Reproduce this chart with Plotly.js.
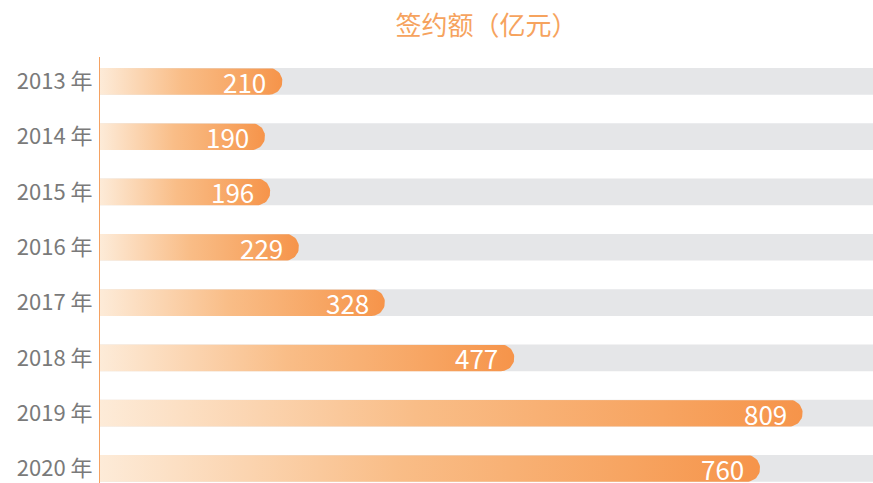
<!DOCTYPE html>
<html>
<head>
<meta charset="utf-8">
<script src="https://cdn.plot.ly/plotly-3.0.1.min.js"></script>
<style>html,body{margin:0;padding:0;background:#fff;}#chart{width:873px;height:483px;}</style>
</head>
<body>
<div id="chart"></div>
<script>
// ---- data ----
const categories = ['2013 年', '2014 年', '2015 年', '2016 年', '2017 年', '2018 年', '2019 年', '2020 年'];
const values = [210, 190, 196, 229, 328, 477, 809, 760];
const chartTitle = '签约额（亿元）';

// ---- layout geometry ----
const W = 873, H = 483;
const M = {l: 100, r: 0, t: 57, b: 0};
const xMax = 890;
const barWidth = 0.483;
const plotW = W - M.l - M.r;
const plotH = H - M.t - M.b;
const yRange = [7.263, -0.44];
const pxPerY = plotH / Math.abs(yRange[0] - yRange[1]);
const capRadiusPx = barWidth * pxPerY / 2;
const capRadiusData = capRadiusPx * xMax / plotW;

const idx = categories.map((_, i) => i);
const endColor = '#f6944a';
const gradScale = [[0, '#fdebd8'], [0.45, '#f9bd87'], [0.8, '#f7a461'], [1, endColor]];

const traces = [];
// grey background bars
traces.push({
  type: 'bar', orientation: 'h', y: idx, x: idx.map(() => xMax), width: barWidth,
  marker: {color: '#e5e6e8'}, hoverinfo: 'skip', showlegend: false
});
// gradient bars with rounded right end
const arcSteps = 24;
values.forEach((v, i) => {
  const cx = v - capRadiusData;
  const ry = barWidth / 2;
  const xs = [0, cx], ys = [i - ry, i - ry];
  for (let k = 0; k <= arcSteps; k++) {
    const a = -Math.PI / 2 + Math.PI * k / arcSteps;
    xs.push(cx + capRadiusData * Math.cos(a));
    ys.push(i + ry * Math.sin(a));
  }
  xs.push(cx, 0, 0);
  ys.push(i + ry, i + ry, i - ry);
  traces.push({
    type: 'scatter', mode: 'lines', x: xs, y: ys,
    fill: 'toself', line: {width: 0, color: 'rgba(0,0,0,0)'},
    fillgradient: {type: 'horizontal', colorscale: gradScale, start: 0, stop: v},
    hoverinfo: 'skip', showlegend: false
  });
});

const annotations = values.map((v, i) => ({
  x: v, y: i, xref: 'x', yref: 'y', text: String(v), showarrow: false,
  xanchor: 'right', yanchor: 'middle', xshift: -15, yshift: 0, borderpad: 0,
  font: {family: 'Noto Sans CJK SC', size: 26, color: '#ffffff'}
}));

const layout = {
  width: W, height: H,
  margin: M,
  paper_bgcolor: '#ffffff', plot_bgcolor: '#ffffff',
  barmode: 'overlay',
  font: {family: 'Noto Sans CJK SC'},
  title: {
    text: chartTitle, xref: 'paper', x: 0.5, xanchor: 'center',
    yref: 'container', y: 1 - 26 / H, yanchor: 'middle',
    font: {family: 'Noto Sans CJK SC', size: 26, color: '#f6a35e'}
  },
  xaxis: {range: [0, xMax], visible: false, fixedrange: true},
  yaxis: {
    range: yRange, tickvals: idx, ticktext: categories,
    showline: true, linecolor: '#f5a262', linewidth: 1,
    showgrid: false, zeroline: false, ticks: '', ticklabelstandoff: 2,
    tickfont: {family: 'Noto Sans CJK SC', size: 22, color: '#7a7a7a'}, fixedrange: true
  },
  annotations: annotations,
  showlegend: false
};

Plotly.newPlot('chart', traces, layout, {displayModeBar: false, staticPlot: true});
</script>
</body>
</html>
